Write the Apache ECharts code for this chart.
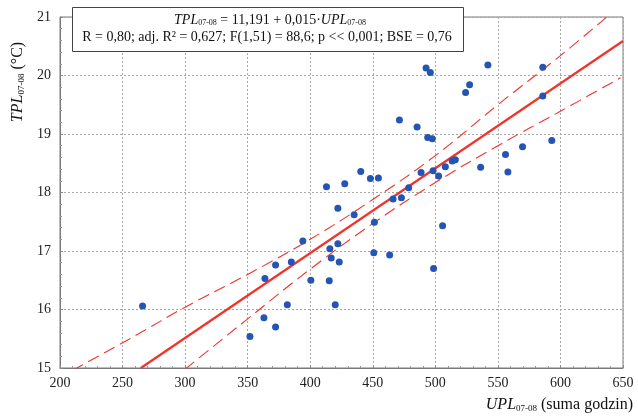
<!DOCTYPE html>
<html><head><meta charset="utf-8">
<script src="https://cdn.jsdelivr.net/npm/echarts@6/dist/echarts.min.js"></script>
<style>html,body{margin:0;padding:0;background:#fff}#c{width:638px;height:417px}</style>
</head><body><div id="c"></div>
<script>
// UPL07-08 (suma godzin) values
const upl = [266, 351.8, 363, 363.8, 372.3, 372.3, 381.7, 384.9, 394.1, 400.5,
  413.0, 415.2, 415.7, 416.8, 420.0, 422.1, 422.1, 423.2, 427.6, 435.1,
  440.4, 448.1, 450.8, 451.3, 454.5, 463.5, 466.2, 471.3, 472.9, 478.7,
  485.4, 488.6, 492.6, 493.9, 496.0, 497.6, 498.2, 498.6, 502.6, 505.8,
  508.0, 513.5, 516.0, 524.2, 527.4, 536.2, 542.0, 556.1, 558.0, 569.7,
  585.9, 585.9, 593.1];
// TPL07-08 (°C) values
const tpl = [16.06, 15.54, 15.86, 16.53, 16.76, 15.70, 16.08, 16.81, 17.17, 16.50,
  18.10, 16.49, 17.04, 16.88, 16.08, 17.125, 17.73, 16.81, 18.15, 17.62,
  18.36, 18.24, 16.97, 17.49, 18.25, 16.93, 17.89, 19.24, 17.91, 18.08,
  19.12, 18.34, 20.13, 18.94, 20.05, 18.92, 18.37, 16.70, 18.28, 17.43,
  18.44, 18.54, 18.56, 19.71, 19.84, 18.43, 20.18, 18.65, 18.35, 18.78,
  20.14, 19.65, 18.89];
// regression line (as drawn)
const fitX = [264.6, 650];
const fitY = [15.0, 20.59];
// confidence band, upper
const upX = [210, 260, 300, 350, 400, 450, 500, 550, 600, 637];
const upY = [14.96, 15.55, 16.04, 16.6, 17.2, 17.88, 18.63, 19.5, 20.34, 21.0];
// confidence band, lower
const loX = [300, 350, 400, 450, 500, 550, 600, 648];
const loY = [14.98, 15.84, 16.69, 17.47, 18.17, 18.8, 19.39, 19.96];
// axis ranges
const xMin = 200, xMax = 650, xStep = 50;
const yMin = 15, yMax = 21, yStep = 1;

const zip = (a, b) => a.map((v, i) => [v, b[i]]);
const serif = '"Liberation Serif", "DejaVu Serif", serif';
const red = '#f0342c';

const chart = echarts.init(document.getElementById('c'), null, {renderer: 'canvas'});
chart.setOption({
  animation: false,
  backgroundColor: '#fff',
  grid: {left: 60, right: 15, top: 17, bottom: 49, show: true, borderColor: '#7a7a7a', borderWidth: 1},
  xAxis: {
    type: 'value', min: xMin, max: xMax, interval: xStep,
    axisLine: {show: true, lineStyle: {color: '#7a7a7a'}},
    axisTick: {show: true, inside: true, length: 3, lineStyle: {color: '#888'}},
    minorTick: {show: true, splitNumber: 5, length: 2, lineStyle: {color: '#999'}},
    axisLabel: {fontFamily: serif, fontSize: 14, color: '#222', margin: 8},
    splitLine: {show: true, lineStyle: {color: '#a8a8a8', type: [2, 2], width: 1}}
  },
  yAxis: {
    type: 'value', min: yMin, max: yMax, interval: yStep,
    axisLine: {show: true, lineStyle: {color: '#7a7a7a'}},
    axisTick: {show: true, inside: true, length: 3, lineStyle: {color: '#888'}},
    minorTick: {show: true, splitNumber: 5, length: 2, lineStyle: {color: '#999'}},
    axisLabel: {fontFamily: serif, fontSize: 14, color: '#222', margin: 9},
    splitLine: {show: true, lineStyle: {color: '#a8a8a8', type: [2, 2], width: 1}}
  },
  series: [
    {type: 'line', data: zip(upX, upY), smooth: 0.4, showSymbol: false, z: 3,
     lineStyle: {color: red, width: 1.1, type: [12, 6]}},
    {type: 'line', data: zip(loX, loY), smooth: 0.4, showSymbol: false, z: 3,
     lineStyle: {color: red, width: 1.1, type: [12, 6]}},
    {type: 'line', data: zip(fitX, fitY), showSymbol: false, z: 4,
     lineStyle: {color: red, width: 2.2}},
    {type: 'scatter', data: zip(upl, tpl), symbolSize: 7, z: 5,
     itemStyle: {color: '#2455b5', opacity: 1}}
  ],
  graphic: [
    {type: 'rect', left: 72, top: 7, shape: {width: 391, height: 44}, z: 10,
     style: {fill: '#fff', stroke: '#444', lineWidth: 1}},
    {type: 'text', x: 270, y: 19, z: 11,
     style: {
       text: '{i|TPL}{s|07-08}{n| = 11,191 + 0,015·}{i|UPL}{s|07-08}',
       align: 'center', verticalAlign: 'middle',
       rich: {
         i: {fontFamily: serif, fontStyle: 'italic', fontSize: 14, fill: '#111', lineHeight: 16, verticalAlign: 'bottom'},
         n: {fontFamily: serif, fontSize: 14, fill: '#111', lineHeight: 16, verticalAlign: 'bottom'},
         s: {fontFamily: serif, fontSize: 8, fill: '#111', lineHeight: 6, verticalAlign: 'bottom'}
       }
     }},
    {type: 'text', x: 267, y: 37, z: 11,
     style: {
       text: 'R = 0,80; adj. R² = 0,627; F(1,51) = 88,6; p << 0,001; BSE = 0,76',
       align: 'center', verticalAlign: 'middle',
       font: '14px ' + serif, fill: '#111'
     }},
    {type: 'text', x: 17, y: 82, rotation: Math.PI / 2, z: 11,
     style: {
       text: '{i|TPL}{s|07-08}{n| (°C)}',
       align: 'center', verticalAlign: 'middle',
       rich: {
         i: {fontFamily: serif, fontStyle: 'italic', fontSize: 16, fill: '#111', lineHeight: 18, verticalAlign: 'bottom'},
         n: {fontFamily: serif, fontSize: 16, fill: '#111', lineHeight: 18, verticalAlign: 'bottom'},
         s: {fontFamily: serif, fontSize: 9, fill: '#111', lineHeight: 6, verticalAlign: 'bottom'}
       }
     }},
    {type: 'text', x: 633, y: 404, z: 11,
     style: {
       text: '{i|UPL}{s|07-08}{n| (suma godzin)}',
       align: 'right', verticalAlign: 'middle',
       rich: {
         i: {fontFamily: serif, fontStyle: 'italic', fontSize: 16, fill: '#111', lineHeight: 18, verticalAlign: 'bottom'},
         n: {fontFamily: serif, fontSize: 16, fill: '#111', lineHeight: 18, verticalAlign: 'bottom'},
         s: {fontFamily: serif, fontSize: 9, fill: '#111', lineHeight: 6, verticalAlign: 'bottom'}
       }
     }}
  ]
});
</script>
</body></html>
